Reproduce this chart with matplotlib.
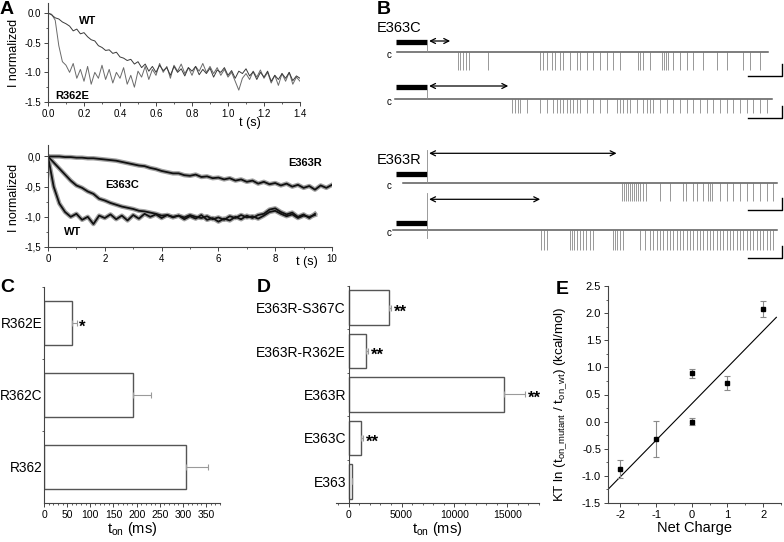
import numpy as np
import matplotlib
matplotlib.use('Agg')
import matplotlib.pyplot as plt
from matplotlib.ticker import MultipleLocator, FixedLocator, FuncFormatter

plt.rcParams['font.family'] = ['Liberation Sans', 'DejaVu Sans']
plt.rcParams['axes.unicode_minus'] = False
plt.rcParams['mathtext.fontset'] = 'custom'
plt.rcParams['mathtext.rm'] = 'Liberation Sans'
plt.rcParams['mathtext.it'] = 'Liberation Sans:italic'
plt.rcParams['mathtext.bf'] = 'Liberation Sans:bold'

# ---------------- DATA ----------------
# Panel A (top): normalized current, t = 0..1.4 s every 0.02 s
a1_t = np.round(np.arange(0, 1.4001, 0.02), 2)
a1_wt = [0.00, -0.03, -0.08, -0.10, -0.15, -0.18, -0.22, -0.30, -0.27, -0.35,
         -0.33, -0.40, -0.45, -0.47, -0.55, -0.58, -0.63, -0.62, -0.68, -0.66,
         -0.74, -0.76, -0.80, -0.78, -0.86, -0.82, -0.92, -0.86, -0.98, -0.90,
         -1.00, -0.88, -0.97, -0.92, -1.05, -0.90, -1.00, -0.94, -1.06, -0.92,
         -0.98, -0.90, -1.04, -0.95, -1.02, -0.93, -1.08, -0.96, -1.00, -0.92,
         -1.05, -0.97, -1.10, -0.98, -1.02, -0.94, -1.06, -0.99, -1.12, -1.00,
         -1.08, -0.98, -1.15, -1.05, -1.12, -1.02, -1.10, -1.00, -1.14, -1.06,
         -1.10]
a1_r362e = [0.00, -0.02, -0.12, -0.55, -0.82, -0.88, -1.00, -0.85, -1.10, -0.95,
            -1.15, -0.90, -1.20, -1.00, -1.10, -0.88, -1.12, -0.95, -1.18, -1.00,
            -1.10, -0.92, -1.20, -1.05, -1.25, -0.98, -1.08, -0.90, -1.12, -0.95,
            -1.05, -0.85, -1.00, -0.90, -1.10, -0.88, -0.98, -0.86, -1.02, -0.92,
            -1.05, -0.90, -0.98, -0.85, -1.00, -0.90, -1.02, -0.92, -1.05, -0.95,
            -1.08, -1.00, -1.15, -1.30, -1.10, -1.02, -1.12, -0.98, -1.08, -0.96,
            -1.10, -1.00, -1.18, -1.05, -1.22, -1.02, -1.15, -1.00, -1.20, -1.08,
            -1.15]

# Panel A (bottom): t = 0..10 s every 0.2 s
a2_t = np.round(np.arange(0, 10.001, 0.2), 1)
a2_wt = [0.00, -0.50, -0.78, -0.92, -1.00, -0.95, -1.05, -1.00, -1.12, -0.98,
         -1.02, -0.96, -1.04, -0.98, -1.06, -0.97, -1.03, -0.95, -1.00, -0.96,
         -1.02, -0.97, -1.01, -0.98, -1.04, -0.99, -1.03, -0.97, -1.05, -1.02,
         -1.08, -1.03, -1.06, -1.00, -1.04, -0.98, -1.02, -0.97, -0.95, -0.88,
         -0.86, -0.92, -0.96, -0.93, -1.00, -0.96, -1.02, -0.95]
a2_e363c = [0.00, -0.10, -0.20, -0.30, -0.40, -0.48, -0.52, -0.58, -0.62, -0.70,
            -0.73, -0.77, -0.80, -0.83, -0.85, -0.87, -0.90, -0.91, -0.93, -0.95,
            -0.98, -0.97, -1.00, -0.98, -1.01, -0.97, -1.00, -1.02, -0.99, -1.04,
            -1.01, -1.05, -0.99, -1.02, -0.97, -1.01, -0.99, -1.03, -0.98, -0.92,
            -0.90, -0.95, -0.99, -0.96, -1.02, -0.98, -1.00, -0.97]
a2_e363r = [0.00, 0.00, 0.00, -0.01, -0.01, -0.02, -0.02, -0.03, -0.03, -0.04,
            -0.05, -0.06, -0.07, -0.09, -0.11, -0.13, -0.15, -0.16, -0.19, -0.21,
            -0.24, -0.26, -0.28, -0.28, -0.31, -0.32, -0.30, -0.34, -0.33, -0.36,
            -0.35, -0.38, -0.36, -0.40, -0.38, -0.42, -0.40, -0.45, -0.42, -0.46,
            -0.44, -0.48, -0.45, -0.50, -0.47, -0.52, -0.49, -0.55, -0.48, -0.52,
            -0.47]

# Panel B: single-channel recordings (time in s after stimulus end)
b_names = ['E363C', 'E363R']
b_ton = [0.67, 2.38, 5.57, 3.32]
b_span = [(-0.90, 10.03), (-0.95, 10.14), (-0.73, 10.29), (-1.01, 10.29)]
b_amp = [1.8, 1.4, 1.8, 2.0]
b_events1 = [0.90, 0.96, 1.05, 1.14, 1.22, 1.78, 3.32, 3.40, 3.52, 3.67, 3.76,
             3.90, 3.99, 4.20, 4.40, 4.49, 4.70, 4.88, 5.08, 5.29, 5.46, 5.67,
             6.20, 6.26, 6.35, 6.55, 6.91, 6.97, 7.03, 7.09, 7.24, 7.44, 7.65,
             7.83, 8.12, 8.53, 8.83, 9.29, 9.50, 9.79]
b_events2 = [2.49, 2.58, 2.67, 2.73, 2.93, 3.32, 3.53, 3.70, 3.82, 3.90, 3.99,
             4.11, 4.20, 4.29, 4.41, 4.49, 4.70, 4.88, 5.08, 5.29, 5.58, 5.67,
             5.76, 5.88, 5.97, 6.18, 6.35, 6.47, 6.55, 6.64, 6.85, 7.05, 7.24,
             7.44, 7.65, 7.83, 8.03, 8.24, 8.41, 8.62, 8.82, 9.00, 9.21, 9.41,
             9.59, 9.79, 10.00]
b_events3 = [5.73, 5.79, 5.85, 5.91, 5.97, 6.03, 6.09, 6.14, 6.20, 6.26, 6.35,
             6.44, 6.85, 7.14, 7.53, 7.61, 7.82, 7.94, 8.12, 8.27, 8.32, 8.38,
             8.62, 8.82, 9.00, 9.21, 9.41, 9.59, 9.79, 10.00, 10.17]
b_events4 = [3.35, 3.43, 3.52, 4.20, 4.26, 4.32, 4.40, 4.49, 4.58, 4.67, 4.79,
             4.88, 5.47, 5.52, 5.58, 5.67, 5.76, 6.26, 6.41, 6.55, 6.64, 6.76,
             6.85, 6.94, 7.05, 7.14, 7.23, 7.35, 7.44, 7.53, 7.65, 7.74, 7.82,
             7.94, 8.03, 8.12, 8.24, 8.32, 8.41, 8.53, 8.62, 8.71, 8.82, 8.91,
             9.00, 9.12, 9.21, 9.29, 9.41, 9.50, 9.59, 9.70, 9.79, 9.88, 10.00,
             10.09, 10.18]
b_events = [b_events1, b_events2, b_events3, b_events4]

# Panel C
c_labels = ['R362', 'R362C', 'R362E']
c_values = [306, 193, 60]
c_errors = [48, 38, 12]
c_marks = ['', '', '*']

# Panel D
d_labels = ['E363', 'E363C', 'E363R', 'E363R-R362E', 'E363R-S367C']
d_values = [300, 1180, 14650, 1630, 3860]
d_errors = [60, 200, 2050, 180, 150]
d_marks = ['', '**', '**', '**', '**']

# Panel E
e_charge = [-2, -1, 0, 0, 1, 2]
e_energy = [-0.87, -0.32, 0.89, 0.00, 0.72, 2.07]
e_err = [0.17, 0.34, 0.08, 0.07, 0.13, 0.15]
e_fit_slope = 0.672
e_fit_intercept = 0.33
e_fit_range = [-2.35, 2.37]

# ---------------- FIGURE ----------------
W, H = 784, 542
fig = plt.figure(figsize=(W / 100, H / 100), dpi=100)


def px_axes(l, t, r, b):
    return fig.add_axes([l / W, 1 - b / H, (r - l) / W, (b - t) / H])


SPINE = '#444444'


def style(ax, size=7):
    for s in ['top', 'right']:
        ax.spines[s].set_visible(False)
    for s in ['left', 'bottom']:
        ax.spines[s].set_color(SPINE)
        ax.spines[s].set_linewidth(0.8)
    ax.tick_params(which='major', direction='out', length=3, width=0.7,
                   color=SPINE, labelsize=size, pad=2)
    ax.tick_params(which='minor', direction='out', length=1.6, width=0.6,
                   color=SPINE)
    ax.patch.set_alpha(0)


# ---- Panel A top
axA1 = px_axes(48, 3, 300, 102)
style(axA1)
axA1.plot(a1_t, a1_r362e, color='#6a6a6a', lw=0.7)
axA1.plot(a1_t, a1_wt, color='#3a3a3a', lw=0.7)
axA1.set_xlim(0, 1.4)
axA1.set_ylim(-1.5, 0.17)
axA1.xaxis.set_major_locator(MultipleLocator(0.2))
axA1.xaxis.set_minor_locator(MultipleLocator(0.1))
axA1.set_yticks([0.0, -0.5, -1.0, -1.5])
axA1.yaxis.set_minor_locator(MultipleLocator(0.25))
axA1.xaxis.set_major_formatter(FuncFormatter(lambda v, p: f'{v:.1f}'))
axA1.yaxis.set_major_formatter(FuncFormatter(lambda v, p: f'{v:.1f}'))
axA1.set_ylabel('I normalized', fontsize=9)
axA1.yaxis.set_label_coords(-0.11, 0.5)
axA1.text(0.17, -0.14, 'WT', fontsize=8, fontweight='bold', va='center')
axA1.text(0.04, -1.40, 'R362E', fontsize=8, fontweight='bold', va='center')
axA1.text(1.12, -1.86, 't (s)', fontsize=9, va='center', ha='center')

# ---- Panel A bottom
axA2 = px_axes(48, 145, 332, 247)
style(axA2)
for tt, yy in [(a2_t, a2_e363r), (a2_t[:len(a2_e363c)], a2_e363c),
               (a2_t[:len(a2_wt)], a2_wt)]:
    axA2.plot(tt, yy, color='#a0a0a0', lw=3.2, solid_joinstyle='round')
for tt, yy in [(a2_t, a2_e363r), (a2_t[:len(a2_e363c)], a2_e363c),
               (a2_t[:len(a2_wt)], a2_wt)]:
    axA2.plot(tt, yy, color='#111111', lw=1.3)
axA2.set_xlim(0, 10)
axA2.set_ylim(-1.5, 0.19)
axA2.xaxis.set_major_locator(MultipleLocator(2))
axA2.xaxis.set_minor_locator(MultipleLocator(1))
axA2.set_yticks([0.0, -0.5, -1.0, -1.5])
axA2.yaxis.set_minor_locator(MultipleLocator(0.25))
axA2.yaxis.set_major_formatter(FuncFormatter(lambda v, p: f'{v:.1f}'.replace('.', ',')))
axA2.set_ylabel('I normalized', fontsize=9)
axA2.yaxis.set_label_coords(-0.098, 0.48)
axA2.text(8.45, -0.11, 'E363R', fontsize=8, fontweight='bold', va='center')
axA2.text(2.0, -0.47, 'E363C', fontsize=8, fontweight='bold', va='center')
axA2.text(0.55, -1.25, 'WT', fontsize=8, fontweight='bold', va='center')
axA2.text(9.1, -1.75, 't (s)', fontsize=9, va='center', ha='center')

# ---- Panel B
axB = px_axes(360, 0, 784, 270)
axB.axis('off')
axB.set_xlim(-1.985, 10.50)
axB.set_ylim(-27.0, 0.0)
base = [-5.23, -9.9, -18.3, -23.0]
bar_y = [-4.23, -8.73, -17.43, -22.27]
arrow_y = [-4.1, -8.6, -15.33, -19.93]
vline_top = [-4.0, -8.5, -15.0, -19.3]
vline_bot = [-5.23, -9.9, -18.3, -23.8]
scale_y = [-7.6, -11.83, -21.0, -25.83]
for i in range(4):
    t0, t1 = b_span[i]
    axB.plot([t0, t1], [base[i], base[i]], color='#5a5a5a', lw=1.1)
    ev = np.array(b_events[i])
    axB.vlines(ev, base[i] - b_amp[i], base[i], color='#707070', lw=0.5)
    axB.plot([-0.92, 0.0], [bar_y[i], bar_y[i]], color='black', lw=3.8,
             solid_capstyle='butt')
    axB.plot([0, 0], [vline_top[i], vline_bot[i]], color='#8a8a8a', lw=0.6)
    axB.annotate('', xy=(b_ton[i], arrow_y[i]), xytext=(0.05, arrow_y[i]),
                 arrowprops=dict(arrowstyle='<->', color='black', lw=0.9,
                                 shrinkA=0, shrinkB=0, mutation_scale=9))
    axB.text(-1.13, base[i] - 0.3, 'c', fontsize=7, ha='center', va='center')
    axB.plot([9.44, 10.44, 10.44], [scale_y[i], scale_y[i], scale_y[i] + 1.2],
             color='black', lw=1.0)
axB.text(-1.5, -2.83, b_names[0], fontsize=10.5, va='center', ha='left')
axB.text(-1.5, -16.0, b_names[1], fontsize=10.5, va='center', ha='left')

# ---- Panel C
axC = px_axes(44, 287, 220, 503)
style(axC, 7.5)
yc = np.arange(len(c_labels))
axC.barh(yc, c_values, height=0.6, color='white', edgecolor='#555555', lw=1.0,
         xerr=[np.zeros(len(c_errors)), c_errors],
         error_kw=dict(ecolor='#9a9a9a', elinewidth=0.8, capsize=2, capthick=0.8))
axC.set_xlim(0, 380)
axC.set_ylim(-0.5, 2.5)
axC.xaxis.set_major_locator(MultipleLocator(50))
axC.xaxis.set_minor_locator(MultipleLocator(10))
axC.set_yticks(yc)
axC.set_yticklabels(c_labels, fontsize=9.8)
axC.tick_params(axis='y', which='major', length=0, pad=1)
axC.yaxis.set_minor_locator(FixedLocator([0.5, 1.5, 2.5]))
for y, v, e, m in zip(yc, c_values, c_errors, c_marks):
    if m:
        axC.annotate(m, (v + e, y), xytext=(1, -3), textcoords='offset points',
                     fontsize=12, fontweight='bold', va='center', ha='left')
axC.set_xlabel(r't$_{\rm on}$ (ms)', fontsize=10.5, labelpad=0)

# ---- Panel D
axD = px_axes(336, 286, 539, 503)
style(axD, 7.5)
axD.spines['left'].set_position(('data', 0))
yd = np.arange(len(d_labels))
axD.barh(yd, d_values, height=0.8, color='white', edgecolor='#555555', lw=1.0,
         xerr=[np.zeros(len(d_errors)), d_errors],
         error_kw=dict(ecolor='#9a9a9a', elinewidth=0.8, capsize=2, capthick=0.8))
axD.set_xlim(-1200, 18000)
axD.set_ylim(-0.5, 4.5)
axD.set_xticks([0, 5000, 10000, 15000])
axD.xaxis.set_minor_locator(MultipleLocator(1000))
axD.set_yticks(yd)
axD.set_yticklabels(d_labels, fontsize=10)
axD.tick_params(axis='y', which='major', length=0, pad=2)
axD.yaxis.set_minor_locator(FixedLocator([0.5, 1.5, 2.5, 3.5, 4.5]))
for y, v, e, m in zip(yd, d_values, d_errors, d_marks):
    if m:
        axD.annotate(m, (v + e, y), xytext=(2, -3), textcoords='offset points',
                     fontsize=12, fontweight='bold', va='center', ha='left')
axD.set_xlabel(r't$_{\rm on}$ (ms)', fontsize=10.5, labelpad=0)

# ---- Panel E
axE = px_axes(608, 286, 781, 503)
style(axE, 8)
xf = np.array(e_fit_range)
axE.plot(xf, e_fit_intercept + e_fit_slope * xf, color='black', lw=0.8)
axE.errorbar(e_charge, e_energy, yerr=e_err, fmt='s', color='black', ms=3.2,
             ecolor='#8a8a8a', elinewidth=0.8, capsize=2, capthick=0.8)
axE.set_xlim(-2.35, 2.5)
axE.set_ylim(-1.5, 2.5)
axE.xaxis.set_major_locator(MultipleLocator(1))
axE.xaxis.set_minor_locator(MultipleLocator(0.5))
axE.yaxis.set_major_locator(MultipleLocator(0.5))
axE.yaxis.set_minor_locator(MultipleLocator(0.25))
axE.yaxis.set_major_formatter(FuncFormatter(lambda v, p: f'{v:.1f}'))
axE.set_xlabel('Net Charge', fontsize=10.5, labelpad=1)
axE.set_ylabel(r'KT ln (t$_{\rm on\_mutant}$ / t$_{\rm on\_wt}$) (kcal/mol)',
               fontsize=9.6)
axE.yaxis.set_label_coords(-0.225, 0.455)

# ---- Panel letters
for lbl, x, y in [('A', 0, 9), ('B', 377, 9), ('C', 0, 288), ('D', 257, 288),
                  ('E', 556, 290)]:
    fig.text(x / W, 1 - y / H, lbl, fontsize=14, fontweight='bold',
             ha='left', va='center')

fig.savefig('out.png', dpi=100)
